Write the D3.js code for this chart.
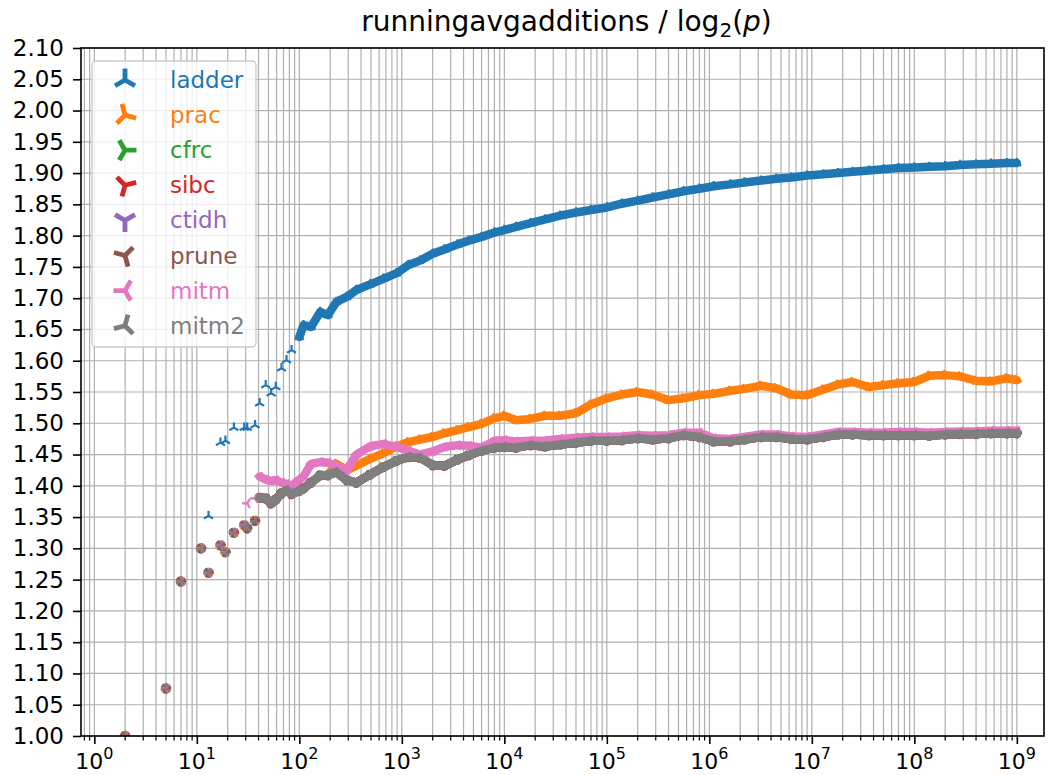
<html>
<head>
<script src="https://d3js.org/d3.v7.min.js"></script>
<style>
  body { margin: 0; background: #fff; }
  text { font-family: "DejaVu Sans", sans-serif; }
</style>
</head>
<body>
<svg id="chart" width="1048" height="775"></svg>
<script>
// Data (p = prime, running average / log2(p))
const xs = [2,5,7,11,13,17,19,23,29,31,37,41,47,53,59,67,75,84,100,110,130,160,190,230,290,360,490,660,890,1160,
  1500,2000,2600,3500,4500,6000,8000,1e4,1.3e4,1.8e4,2.5e4,3.5e4,5e4,7e4,1e5,1.4e5,2e5,2.8e5,4e5,5.6e5,8e5,
  1.1e6,1.6e6,2.2e6,3.2e6,4.5e6,6.3e6,9e6,1.3e7,1.8e7,2.5e7,3.6e7,5e7,7e7,1e8,1.4e8,2e8,2.8e8,4e8,5.6e8,8e8,1e9];

const ladderY = [1.000,1.076,1.247,1.300,1.352,1.469,1.472,1.493,1.493,1.493,1.497,1.532,1.561,1.548,1.558,1.588,1.601,1.617,1.638,1.657,
  1.654,1.678,1.673,1.694,1.702,1.713,1.722,1.731,1.740,1.753,1.760,1.771,1.778,1.786,1.792,1.798,1.805,1.809,1.814,1.820,
  1.826,1.832,1.837,1.841,1.845,1.851,1.856,1.861,1.866,1.871,1.875,1.879,1.882,1.885,1.888,1.891,1.893,1.896,1.898,1.900,
  1.902,1.904,1.906,1.908,1.909,1.910,1.911,1.913,1.914,1.915,1.916,1.916];

const pracY = [1.000,1.076,1.247,1.300,1.261,1.305,1.294,1.325,1.337,1.332,1.344,1.381,1.380,1.372,1.378,1.388,1.393,1.387,1.392,1.396,
  1.405,1.417,1.417,1.435,1.425,1.432,1.443,1.452,1.463,1.470,1.474,1.478,1.484,1.489,1.494,1.499,1.508,1.512,1.505,1.507,
  1.512,1.512,1.516,1.530,1.540,1.546,1.550,1.546,1.537,1.540,1.545,1.547,1.552,1.555,1.560,1.556,1.546,1.545,1.554,1.562,
  1.566,1.558,1.561,1.564,1.566,1.576,1.577,1.575,1.568,1.567,1.572,1.569];

// cfrc, sibc, ctidh, prune and mitm2 coincide in the picture (one gray band)
const cfrcY = [1.000,1.076,1.247,1.300,1.261,1.305,1.294,1.325,1.337,1.332,1.344,1.381,1.380,1.372,1.378,1.388,1.393,1.387,1.392,1.396,
  1.405,1.417,1.417,1.422,1.409,1.405,1.418,1.430,1.440,1.446,1.445,1.433,1.432,1.442,1.449,1.456,1.461,1.4625,1.461,1.465,
  1.463,1.466,1.469,1.472,1.472,1.473,1.476,1.474,1.476,1.481,1.478,1.471,1.471,1.474,1.478,1.478,1.475,1.474,1.478,1.482,
  1.482,1.481,1.481,1.481,1.481,1.480,1.482,1.483,1.483,1.484,1.484,1.484];
const sibcY = cfrcY;
const ctidhY = cfrcY;
const pruneY = cfrcY;
const mitm2Y = cfrcY;

const mitmY = [1.000,1.076,1.247,1.300,1.261,1.305,1.294,1.325,1.337,1.372,1.380,1.415,1.410,1.408,1.409,1.405,1.403,1.400,1.410,1.415,
  1.435,1.438,1.437,1.432,1.425,1.450,1.463,1.467,1.462,1.456,1.450,1.455,1.462,1.465,1.464,1.461,1.472,1.473,1.471,1.472,
  1.472,1.475,1.477,1.478,1.478,1.479,1.481,1.480,1.481,1.485,1.485,1.476,1.475,1.478,1.482,1.482,1.479,1.478,1.482,1.486,
  1.486,1.485,1.485,1.486,1.486,1.485,1.486,1.487,1.487,1.488,1.488,1.488];

const names = ["ladder","prac","cfrc","sibc","ctidh","prune","mitm","mitm2"];
const values = [ladderY, pracY, cfrcY, sibcY, ctidhY, pruneY, mitmY, mitm2Y];
const colors = ["#1f77b4","#ff7f0e","#2ca02c","#d62728","#9467bd","#8c564b","#e377c2","#7f7f7f"];
const yTicks = d3.range(0, 23).map(i => 1 + i * 0.05);
const xDecades = d3.range(0, 10).map(k => Math.pow(10, k));

// Dimensions
const plotLeft = 81, plotRight = 1044, plotTop = 48, plotBottom = 736;

const svg = d3.select("#chart");

const x = d3.scaleLog()
  .domain([Math.pow(10, -0.13), Math.pow(10, 9.265)])
  .range([plotLeft, plotRight]);

const y = d3.scaleLinear()
  .domain([1.0, 2.1])
  .range([plotBottom, plotTop]);

// minor ticks of the log axis
const xMinor = [];
for (let k = -1; k <= 9; k++) {
  for (let m = 2; m <= 9; m++) {
    const v = m * Math.pow(10, k);
    if (x(v) >= plotLeft && x(v) <= plotRight) xMinor.push(v);
  }
}

// Grid
const grid = svg.append("g").attr("stroke", "#b0b0b0").attr("stroke-width", 1.2);
grid.selectAll(".vx")
  .data(xDecades.concat(xMinor)).enter()
  .append("line")
  .attr("x1", d => x(d)).attr("x2", d => x(d))
  .attr("y1", plotTop).attr("y2", plotBottom);
grid.selectAll(".hy")
  .data(yTicks).enter()
  .append("line")
  .attr("x1", plotLeft).attr("x2", plotRight)
  .attr("y1", d => y(d)).attr("y2", d => y(d));

// Clip for data
svg.append("clipPath").attr("id", "plotArea")
  .append("rect")
  .attr("x", plotLeft).attr("y", plotTop)
  .attr("width", plotRight - plotLeft).attr("height", plotBottom - plotTop);

// three-armed marker
function tri(r, rot) {
  let p = "";
  for (let i = 0; i < 3; i++) {
    const a = (rot + i * 120) * Math.PI / 180;
    p += "M0,0L" + (r * Math.sin(a)).toFixed(2) + "," + (-r * Math.cos(a)).toFixed(2);
  }
  return p;
}
const rotation = i => 120 - 15 * i;

const plot = svg.append("g").attr("clip-path", "url(#plotArea)");

values.forEach((vals, i) => {
  const pts = xs.map((d, j) => [d, vals[j]]);
  const bandFrom = i === 0 ? 100 : 41;
  const line = d3.line()
    .x(d => x(d[0]))
    .y(d => y(d[1]));

  plot.append("path")
    .datum(pts.filter(d => d[0] >= bandFrom))
    .attr("d", line)
    .attr("fill", "none")
    .attr("stroke", colors[i])
    .attr("stroke-width", 8.5)
    .attr("stroke-linejoin", "round")
    .attr("stroke-linecap", "round");

  plot.append("g")
    .selectAll("path")
    .data(pts).enter()
    .append("path")
    .attr("d", tri(5.2, rotation(i)))
    .attr("transform", d => "translate(" + x(d[0]) + "," + y(d[1]) + ")")
    .attr("fill", "none")
    .attr("stroke", colors[i])
    .attr("stroke-width", 2.2);
});

// Frame
svg.append("rect")
  .attr("x", plotLeft).attr("y", plotTop)
  .attr("width", plotRight - plotLeft).attr("height", plotBottom - plotTop)
  .attr("fill", "none").attr("stroke", "#000").attr("stroke-width", 1.6);

// Y axis
const yAxis = svg.append("g")
  .attr("transform", "translate(" + plotLeft + ",0)")
  .call(d3.axisLeft(y).tickValues(yTicks).tickFormat(d3.format(".2f")).tickSize(8).tickPadding(9));
yAxis.select(".domain").remove();
yAxis.selectAll("line").attr("stroke-width", 1.6);
yAxis.selectAll("text").attr("font-size", 23).attr("fill", "#000")
  .attr("font-family", "DejaVu Sans");

// X axis
const xAxis = svg.append("g")
  .attr("transform", "translate(0," + plotBottom + ")")
  .call(d3.axisBottom(x).tickValues(xDecades).tickFormat("").tickSize(8));
xAxis.select(".domain").remove();
xAxis.selectAll("line").attr("stroke-width", 1.6);

svg.append("g").selectAll("line")
  .data(xMinor).enter()
  .append("line")
  .attr("x1", d => x(d)).attr("x2", d => x(d))
  .attr("y1", plotBottom).attr("y2", plotBottom + 4.5)
  .attr("stroke", "#000").attr("stroke-width", 1.2);

const xLab = svg.append("g").selectAll("text")
  .data(xDecades).enter()
  .append("text")
  .attr("x", d => x(d))
  .attr("y", 769)
  .attr("text-anchor", "middle")
  .attr("font-size", 22);
xLab.append("tspan").text("10");
xLab.append("tspan")
  .attr("font-size", 16)
  .attr("dy", -10)
  .text(d => Math.round(Math.log10(d)));

// Title
const title = svg.append("text")
  .attr("x", (plotLeft + plotRight) / 2 + 4)
  .attr("y", 31)
  .attr("text-anchor", "middle")
  .attr("font-size", 28);
title.append("tspan").text("runningavgadditions / log");
title.append("tspan").attr("font-size", 20).attr("dy", 6).text("2");
title.append("tspan").attr("dy", -6).text("(");
title.append("tspan").attr("font-style", "italic").text("p");
title.append("tspan").text(")");

// Legend
const legend = svg.append("g");
legend.append("rect")
  .attr("x", 92).attr("y", 61)
  .attr("width", 164).attr("height", 286)
  .attr("rx", 4)
  .attr("fill", "#fff").attr("fill-opacity", 0.8)
  .attr("stroke", "#cccccc").attr("stroke-width", 1.4);

names.forEach((name, i) => {
  const ly = 80 + i * 35.1;
  legend.append("path")
    .attr("d", tri(11.5, rotation(i)))
    .attr("transform", "translate(125," + ly + ")")
    .attr("fill", "none")
    .attr("stroke", colors[i])
    .attr("stroke-width", 4.8);
  legend.append("text")
    .attr("x", 170).attr("y", ly + 8)
    .attr("font-size", 23)
    .attr("fill", colors[i])
    .text(name);
});
</script>
</body>
</html>
